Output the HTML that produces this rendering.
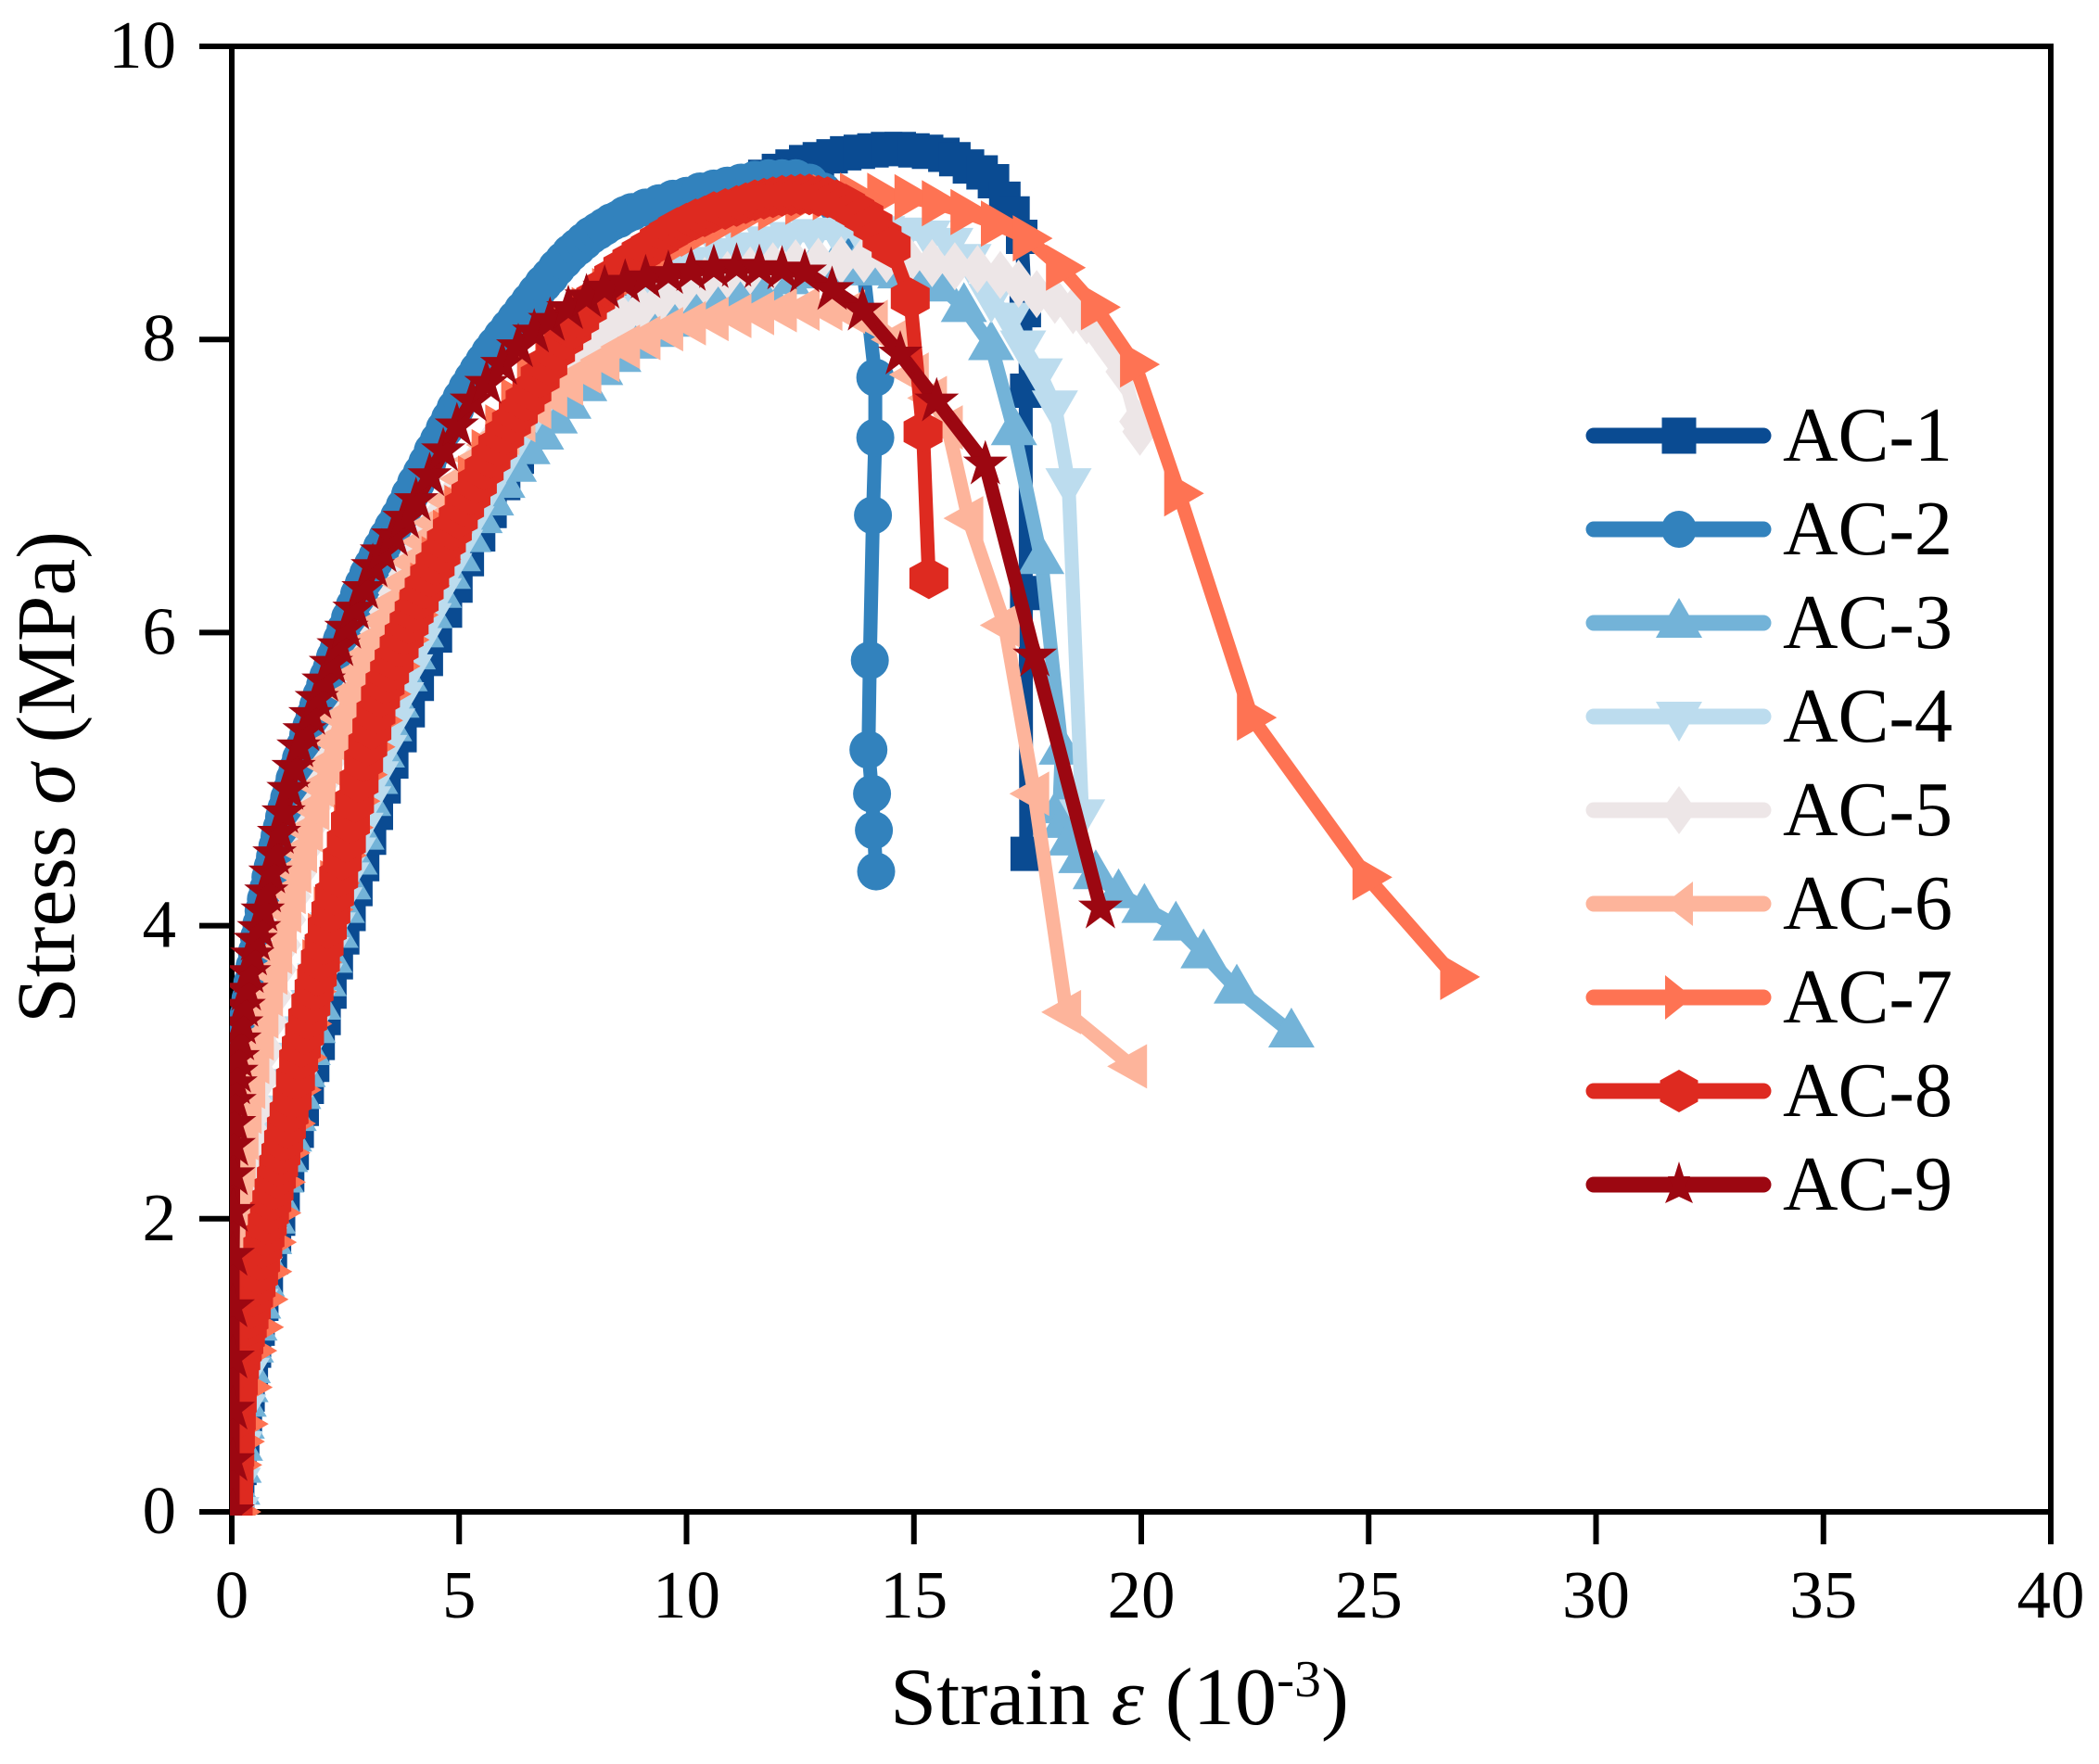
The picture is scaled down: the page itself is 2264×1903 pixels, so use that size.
<!DOCTYPE html>
<html lang="en">
<head>
<meta charset="utf-8">
<title>Stress-strain curves AC-1 to AC-9</title>
<style>
html,body{margin:0;padding:0;background:#fff;}
svg{display:block;}
text{font-family:"Liberation Serif","DejaVu Serif",serif;fill:#000;}
</style>
</head>
<body>
<svg id="chart" xmlns="http://www.w3.org/2000/svg" width="2264" height="1903" viewBox="0 0 2264 1903">
<rect x="0" y="0" width="2264" height="1903" fill="#ffffff"/>
<defs><clipPath id="plot-clip"><rect x="248" y="40" width="1970" height="1595"/></clipPath></defs>
<g id="axes"></g>
<g id="series" clip-path="url(#plot-clip)"></g>
<g id="legend"></g>
<text x="960" y="1860" font-size="88" textLength="495" lengthAdjust="spacingAndGlyphs">Strain <tspan font-style="italic">ε</tspan> (10<tspan font-size="56" dy="-30">-3</tspan><tspan dy="30">)</tspan></text>
<text transform="translate(80,1104) rotate(-90)" x="0" y="0" font-size="90" textLength="531" lengthAdjust="spacingAndGlyphs">Stress <tspan font-style="italic">σ</tspan> (MPa)</text>
</svg>
<script>
const xTickLabels = [0, 5, 10, 15, 20, 25, 30, 35, 40];
const yTickLabels = [0, 2, 4, 6, 8, 10];
const seriesNames = ["AC-1", "AC-2", "AC-3", "AC-4", "AC-5", "AC-6", "AC-7", "AC-8", "AC-9"];

const ac1Strain = [.12,.15,.2,.26,.32,.38,.45,.52,.6,.68,.78,.87,.96,1.05,1.15,1.25,1.35,1.46,1.57,1.68,1.8,1.92,2.05,2.18,2.32,2.46,2.6,2.75,2.9,3.05,3.2,3.37,3.54,3.72,3.9,4.1,4.3,4.5,4.72,4.95,5.2,5.45,5.7,6,6.3,6.6,6.9,7.2,7.5,7.8,8.1,8.4,8.7,9,9.3,9.6,9.9,10.2,10.5,10.8,11.1,11.4,11.7,12,12.3,12.6,12.9,13.2,13.5,13.8,14.1,14.4,14.7,15,15.3,15.66,15.9,16.2,16.5,16.75,17,17.2,17.37,17.45,17.46,17.46,17.47];
const ac1Stress = [0,.12,.3,.48,.65,.8,.95,1.1,1.25,1.42,1.6,1.75,1.88,2,2.15,2.3,2.45,2.6,2.75,2.9,3.05,3.2,3.37,3.55,3.75,3.92,4.08,4.25,4.42,4.6,4.77,4.95,5.12,5.3,5.47,5.65,5.82,5.98,6.15,6.32,6.5,6.67,6.83,7.02,7.2,7.37,7.53,7.68,7.83,7.97,8.1,8.22,8.33,8.44,8.54,8.63,8.72,8.8,8.87,8.94,9,9.06,9.11,9.15,9.18,9.21,9.23,9.25,9.27,9.28,9.29,9.3,9.3,9.29,9.28,9.26,9.23,9.18,9.14,9.08,8.96,8.86,8.7,8.2,7.65,6.27,4.49];

const ac2Strain = [.02,.03,.04,.05,.07,.09,.11,.14,.17,.21,.26,.29,.33,.37,.41,.45,.5,.55,.6,.65,.7,.75,.8,.85,.9,.95,1,1.05,1.1,1.15,1.2,1.26,1.32,1.38,1.45,1.52,1.6,1.68,1.75,1.82,1.9,1.97,2.05,2.12,2.2,2.27,2.35,2.42,2.5,2.6,2.7,2.8,2.9,3,3.1,3.2,3.3,3.42,3.55,3.68,3.8,3.92,4.05,4.18,4.3,4.42,4.55,4.68,4.8,4.92,5.05,5.18,5.3,5.42,5.55,5.68,5.8,5.95,6.1,6.25,6.4,6.55,6.7,6.85,7,7.15,7.3,7.45,7.6,7.75,7.9,8.05,8.2,8.35,8.5,8.65,8.8,9.1,9.4,9.7,10,10.3,10.6,10.9,11.2,11.5,11.8,12.1,12.4,12.7,13,13.3,13.6,13.85,14.15,14.15,14.1,14.03,14,14.08,14.12,14.17];
const ac2Stress = [0,.3,.6,.9,1.2,1.5,1.8,2.1,2.4,2.7,3,3.14,3.27,3.39,3.5,3.61,3.72,3.82,3.92,4.01,4.1,4.18,4.25,4.33,4.4,4.47,4.54,4.61,4.67,4.74,4.8,4.87,4.93,5,5.07,5.14,5.22,5.3,5.36,5.43,5.5,5.57,5.64,5.7,5.76,5.83,5.89,5.95,6.02,6.1,6.18,6.26,6.33,6.4,6.46,6.52,6.58,6.65,6.72,6.79,6.86,6.94,7.02,7.09,7.16,7.24,7.31,7.39,7.46,7.53,7.6,7.67,7.73,7.79,7.85,7.91,7.96,8.02,8.08,8.14,8.2,8.26,8.32,8.38,8.43,8.49,8.54,8.59,8.63,8.67,8.71,8.74,8.77,8.8,8.82,8.85,8.87,8.9,8.93,8.96,8.98,9.01,9.03,9.05,9.07,9.09,9.1,9.1,9.1,9.07,9.01,8.92,8.78,8.58,7.74,7.33,6.8,5.81,5.2,4.9,4.65,4.37];

const ac3Strain = [.1,.12,.15,.18,.22,.26,.3,.35,.42,.5,.58,.66,.74,.82,.9,1,1.08,1.17,1.26,1.36,1.46,1.56,1.67,1.78,1.9,2.02,2.15,2.28,2.42,2.56,2.7,2.85,3,3.15,3.3,3.46,3.62,3.8,3.98,4.16,4.35,4.55,4.75,4.97,5.2,5.45,5.7,5.95,6.2,6.5,6.8,7.1,7.4,7.75,8.1,8.5,8.9,9.3,9.75,10.2,10.7,11.2,11.7,12.2,12.7,13.2,13.7,14.2,14.7,15.2,15.6,16.1,16.7,17.2,17.8,18.25,18.2,18.3,18.45,18.68,19,19.5,20.07,20.76,21.37,22.1,23.3];
const ac3Stress = [0,.15,.3,.45,.6,.75,.85,.98,1.12,1.27,1.42,1.57,1.72,1.86,2,2.14,2.28,2.42,2.56,2.7,2.85,3,3.15,3.3,3.46,3.62,3.78,3.95,4.12,4.28,4.45,4.62,4.85,5,5.18,5.36,5.52,5.7,5.85,6,6.13,6.27,6.4,6.52,6.65,6.78,6.9,7.02,7.13,7.25,7.35,7.46,7.56,7.68,7.79,7.88,7.97,8.05,8.12,8.18,8.25,8.3,8.36,8.41,8.45,8.47,8.48,8.47,8.45,8.42,8.36,8.22,7.96,7.38,6.5,5.2,4.8,4.7,4.58,4.46,4.35,4.22,4.12,4,3.81,3.57,3.27];

const ac4Strain = [.1,.13,.18,.25,.33,.42,.52,.62,.72,.82,.93,1.04,1.16,1.28,1.4,1.53,1.66,1.8,1.94,2.08,2.22,2.37,2.52,2.67,2.83,3,3.17,3.35,3.53,3.72,3.92,4.12,4.33,4.55,4.78,5.02,5.27,5.53,5.8,6.08,6.38,6.7,7.03,7.4,7.8,8.2,8.6,9,9.4,9.85,10.3,10.8,11.3,11.8,12.3,12.8,13.3,13.8,14.3,14.8,15.3,15.8,16.2,16.7,17.1,17.4,17.77,18.1,18.4,18.7];
const ac4Stress = [0,.2,.45,.7,.95,1.2,1.42,1.64,1.84,2.02,2.2,2.38,2.56,2.74,2.92,3.1,3.28,3.46,3.64,3.82,3.99,4.16,4.33,4.5,4.67,4.85,5.02,5.2,5.38,5.56,5.75,5.93,6.1,6.27,6.44,6.6,6.76,6.92,7.07,7.22,7.38,7.53,7.68,7.83,7.98,8.1,8.2,8.3,8.39,8.47,8.53,8.59,8.63,8.67,8.7,8.72,8.73,8.74,8.74,8.73,8.71,8.66,8.55,8.28,8.15,7.96,7.77,7.55,7.02,4.76];

const ac5Strain = [.05,.07,.1,.13,.16,.2,.24,.29,.34,.4,.46,.53,.6,.68,.76,.85,.94,1.04,1.14,1.25,1.36,1.48,1.6,1.73,1.86,2,2.15,2.3,2.46,2.63,2.8,3,3.2,3.4,3.6,3.83,4.06,4.3,4.55,4.82,5.1,5.4,5.7,6,6.35,6.7,7.05,7.4,7.8,8.2,8.6,9,9.45,9.9,10.4,10.9,11.4,11.9,12.4,12.9,13.4,13.9,14.4,14.9,15.4,15.9,16.4,16.9,17.3,17.7,18.1,18.5,18.8,19.07,19.35,19.6,19.9,19.97];
const ac5Stress = [0,.25,.5,.75,1,1.25,1.5,1.72,1.94,2.15,2.36,2.56,2.76,2.96,3.15,3.34,3.52,3.7,3.87,4.04,4.2,4.36,4.52,4.68,4.83,4.98,5.13,5.28,5.42,5.57,5.71,5.86,6,6.14,6.27,6.4,6.53,6.66,6.79,6.92,7.05,7.18,7.3,7.42,7.55,7.67,7.78,7.88,7.97,8.06,8.14,8.21,8.28,8.34,8.4,8.44,8.47,8.5,8.52,8.53,8.54,8.55,8.55,8.54,8.52,8.5,8.48,8.44,8.38,8.31,8.27,8.2,8.13,8.05,7.93,7.78,7.44,7.37];

const ac6Strain = [0,.01,.02,.03,.05,.09,.14,.2,.26,.33,.41,.5,.6,.7,.8,.9,1,1.1,1.2,1.3,1.42,1.55,1.68,1.82,1.96,2.1,2.26,2.42,2.6,2.78,2.96,3.14,3.34,3.55,3.77,4,4.25,4.5,4.8,5.1,5.4,5.7,6,6.35,6.7,7.05,7.4,7.8,8.2,8.65,9.1,9.6,10.1,10.6,11.1,11.6,12.1,12.6,13.1,13.6,14.1,14.6,15,15.4,15.75,16.2,17,17.65,18.35,19.8];
const ac6Stress = [0,.4,.8,1.2,1.55,1.9,2.15,2.36,2.55,2.73,2.9,3.07,3.23,3.38,3.53,3.68,3.82,3.96,4.1,4.23,4.37,4.51,4.65,4.8,4.95,5.1,5.26,5.42,5.58,5.72,5.84,5.95,6.08,6.2,6.34,6.48,6.62,6.75,6.9,7.05,7.18,7.28,7.36,7.45,7.54,7.62,7.7,7.78,7.86,7.95,8.01,8.07,8.11,8.14,8.16,8.18,8.2,8.21,8.21,8.19,8.12,8,7.76,7.6,7.4,6.78,6.05,4.9,3.41,3.04];

const ac7Strain = [.1,.12,.18,.26,.35,.45,.6,.7,.78,.88,.98,1.08,1.18,1.3,1.43,1.55,1.66,1.76,1.88,2,2.13,2.27,2.42,2.57,2.72,2.88,3.05,3.22,3.4,3.6,3.8,4,4.25,4.5,4.75,5,5.3,5.6,5.9,6.25,6.6,7,7.4,7.8,8.25,8.7,9.2,9.7,10.2,10.75,11.3,11.9,12.5,13.1,13.7,14.3,14.9,15.5,16.13,16.8,17.5,18.23,19,19.86,20.83,22.43,24.97,26.9];
const ac7Stress = [0,.32,.48,.6,.85,1.1,1.26,1.45,1.64,1.84,2.04,2.25,2.45,2.65,2.88,3.1,3.33,3.55,3.75,3.93,4.11,4.29,4.48,4.67,4.85,5.03,5.22,5.4,5.58,5.77,5.95,6.12,6.32,6.5,6.68,6.85,7.05,7.23,7.4,7.58,7.75,7.92,8.07,8.2,8.33,8.45,8.55,8.64,8.72,8.79,8.85,8.9,8.94,8.97,8.98,8.98,8.97,8.93,8.87,8.79,8.69,8.49,8.22,7.83,6.95,5.42,4.33,3.65];

const ac8Strain = [.03,.04,.05,.065,.08,.1,.12,.145,.17,.2,.23,.265,.3,.34,.38,.43,.48,.535,.59,.635,.68,.73,.78,.83,.88,.93,.98,1.03,1.08,1.14,1.2,1.26,1.33,1.4,1.47,1.53,1.6,1.67,1.74,1.81,1.88,1.95,2.03,2.1,2.18,2.26,2.35,2.43,2.52,2.61,2.7,2.8,2.9,2.99,3.08,3.17,3.27,3.37,3.47,3.57,3.68,3.79,3.9,4.01,4.12,4.23,4.35,4.47,4.6,4.72,4.85,4.98,5.12,5.26,5.4,5.55,5.7,5.85,6,6.15,6.3,6.45,6.6,6.78,6.95,7.12,7.3,7.48,7.65,7.82,8,8.2,8.4,8.6,8.8,9,9.2,9.4,9.6,9.8,10,10.2,10.4,10.6,10.85,11.1,11.3,11.5,11.7,11.9,12.1,12.3,12.5,12.7,12.9,13.1,13.3,13.5,13.7,13.9,14.1,14.3,14.5,14.92,15.2,15.33];
const ac8Stress = [0,.12,.25,.38,.5,.63,.75,.87,.98,1.04,1.1,1.15,1.2,1.26,1.32,1.39,1.47,1.54,1.62,1.71,1.8,1.88,1.96,2.04,2.12,2.2,2.28,2.36,2.44,2.53,2.62,2.72,2.82,2.95,3.08,3.17,3.26,3.36,3.46,3.56,3.66,3.76,3.87,3.98,4.09,4.21,4.33,4.45,4.57,4.7,4.84,4.98,5.12,5.23,5.34,5.45,5.56,5.65,5.73,5.81,5.9,5.98,6.06,6.14,6.22,6.3,6.38,6.46,6.54,6.62,6.7,6.78,6.86,6.94,7.02,7.11,7.19,7.27,7.35,7.43,7.5,7.58,7.65,7.74,7.83,7.92,8,8.07,8.14,8.21,8.28,8.36,8.43,8.49,8.54,8.59,8.63,8.68,8.72,8.76,8.79,8.82,8.84,8.87,8.89,8.91,8.93,8.95,8.96,8.97,8.98,8.985,8.99,8.99,8.98,8.97,8.95,8.92,8.88,8.84,8.78,8.7,8.63,8.28,7.37,6.37];

const ac9Strain = [.02,.02,.02,.02,.02,.02,.03,.03,.04,.05,.06,.08,.1,.13,.17,.21,.26,.32,.38,.45,.52,.6,.68,.76,.85,.94,1.04,1.14,1.25,1.36,1.47,1.6,1.73,1.87,2.02,2.18,2.35,2.52,2.7,2.9,3.1,3.3,3.55,3.8,4.05,4.35,4.65,4.95,5.28,5.6,5.95,6.3,6.65,7,7.4,7.8,8.2,8.65,9.1,9.6,10.1,10.6,11.1,11.6,12.1,12.6,13.2,13.87,14.7,15.5,16.57,17.66,19.1];
const ac9Stress = [0,.35,.7,1.05,1.4,1.75,2.05,2.3,2.5,2.65,2.8,2.92,3,3.1,3.22,3.33,3.45,3.56,3.68,3.8,3.9,3.98,4.1,4.23,4.36,4.49,4.63,4.77,4.93,5.08,5.22,5.33,5.44,5.55,5.67,5.79,5.91,6.03,6.16,6.3,6.45,6.55,6.66,6.78,6.9,7.07,7.24,7.41,7.58,7.7,7.83,7.95,8.05,8.13,8.21,8.29,8.35,8.39,8.42,8.45,8.47,8.49,8.5,8.49,8.48,8.46,8.34,8.2,7.9,7.58,7.15,5.84,4.12];

const strainSeries = [ac1Strain, ac2Strain, ac3Strain, ac4Strain, ac5Strain, ac6Strain, ac7Strain, ac8Strain, ac9Strain];
const stressSeries = [ac1Stress, ac2Stress, ac3Stress, ac4Stress, ac5Stress, ac6Stress, ac7Stress, ac8Stress, ac9Stress];

const seriesColors = ["#0a4b92", "#3282bd", "#73b3d8", "#bcdcee", "#ede6e7", "#fdb49b", "#fe7353", "#de2a20", "#9c0711"];
const chartMarkers = [
  "M-17,-18.5H17V18.5H-17Z",
  "M-20.5,0A20.5,20.5 0 1 1 20.5,0A20.5,20.5 0 1 1 -20.5,0Z",
  "M0,-27L25,16H-25Z",
  "M0,27L25,-16H-25Z",
  "M0,-26L19,0L0,26L-19,0Z",
  "M-27,0L16,-24V24Z",
  "M27,0L-16,-25V25Z",
  "M0,-22.5L21,-11V11L0,22.5L-21,11V-11Z",
  "M0,-26L6,-8H24L10,3L16,22L0,10L-16,22L-10,3L-24,-8H-6Z"
];
const legendMarkers = [
  "M-18.5,-19.5H18.5V19.5H-18.5Z",
  "M-19,0A19,20 0 1 1 19,0A19,20 0 1 1 -19,0Z",
  "M0,-27L25,16H-25Z",
  "M0,27L25,-16H-25Z",
  "M0,-26L19,0L0,26L-19,0Z",
  "M-16,0L15,-24V24Z",
  "M15,0L-15,-24V24Z",
  "M0,-23L20.5,-11.5V11.5L0,23L-20.5,11.5V-11.5Z",
  "M0,-25L5,-9H12L7,1L15,20L0,13L-15,20L-7,1L-12,-9H-5Z"
];

const SVG_NS = "http://www.w3.org/2000/svg";
const xScale = function (v) { return 250 + (v / 40) * 1962; };
const yScale = function (v) { return 1631 - (v / 10) * 1581; };

const axesGroup = document.getElementById("axes");
const seriesGroup = document.getElementById("series");
const legendGroup = document.getElementById("legend");

function svgEl(tag, parent) {
  const el = document.createElementNS(SVG_NS, tag);
  parent.appendChild(el);
  return el;
}

const frame = svgEl("rect", axesGroup);


frame.setAttribute("x", xScale(0));
frame.setAttribute("y", yScale(10));
frame.setAttribute("width", xScale(40) - xScale(0));
frame.setAttribute("height", yScale(0) - yScale(10));
frame.setAttribute("fill", "none");
frame.setAttribute("stroke", "#000");
frame.setAttribute("stroke-width", "6");

xTickLabels.forEach(function (v) {
  const tick = svgEl("line", axesGroup);
  
  
  tick.setAttribute("x1", xScale(v));
  tick.setAttribute("x2", xScale(v));
  tick.setAttribute("y1", yScale(0));
  tick.setAttribute("y2", yScale(0) + 35);
  tick.setAttribute("stroke", "#000");
  tick.setAttribute("stroke-width", "6");
  const label = svgEl("text", axesGroup);
  
  
  label.setAttribute("x", xScale(v));
  label.setAttribute("y", 1745);
  label.setAttribute("font-size", "73");
  label.setAttribute("text-anchor", "middle");
  label.textContent = v;
});

yTickLabels.forEach(function (v) {
  const tick = svgEl("line", axesGroup);
  
  
  tick.setAttribute("x1", xScale(0) - 35);
  tick.setAttribute("x2", xScale(0));
  tick.setAttribute("y1", yScale(v));
  tick.setAttribute("y2", yScale(v));
  tick.setAttribute("stroke", "#000");
  tick.setAttribute("stroke-width", "6");
  const label = svgEl("text", axesGroup);
  
  
  label.setAttribute("x", 190);
  label.setAttribute("y", yScale(v) + 23);
  label.setAttribute("font-size", "73");
  label.setAttribute("text-anchor", "end");
  label.textContent = v;
});

seriesNames.forEach(function (name, i) {
  const group = svgEl("g", seriesGroup);
  
  
  const n = Math.min(strainSeries[i].length, stressSeries[i].length);
  let pts = "";
  for (let k = 0; k < n; k++) {
    pts += xScale(strainSeries[i][k]).toFixed(1) + "," + yScale(stressSeries[i][k]).toFixed(1) + " ";
  }
  const line = svgEl("polyline", group);
  
  
  line.setAttribute("points", pts.trim());
  line.setAttribute("fill", "none");
  line.setAttribute("stroke", seriesColors[i]);
  line.setAttribute("stroke-width", "15");
  line.setAttribute("stroke-linejoin", "round");
  for (let k = 0; k < n; k++) {
    const mark = svgEl("path", group);
    
    
    mark.setAttribute("d", chartMarkers[i]);
    mark.setAttribute("fill", seriesColors[i]);
    mark.setAttribute("transform", "translate(" + xScale(strainSeries[i][k]).toFixed(1) + "," + yScale(stressSeries[i][k]).toFixed(1) + ")");
  }

  const entry = svgEl("g", legendGroup);
  
  
  const rowY = 470 + i * 101;
  const swatch = svgEl("line", entry);
  
  
  swatch.setAttribute("x1", 1719);
  swatch.setAttribute("x2", 1902);
  swatch.setAttribute("y1", rowY);
  swatch.setAttribute("y2", rowY);
  swatch.setAttribute("stroke", seriesColors[i]);
  swatch.setAttribute("stroke-width", "17");
  swatch.setAttribute("stroke-linecap", "round");
  const legendMark = svgEl("path", entry);
  
  
  legendMark.setAttribute("d", legendMarkers[i]);
  legendMark.setAttribute("fill", seriesColors[i]);
  legendMark.setAttribute("transform", "translate(1811," + rowY + ")");
  const text = svgEl("text", entry);
  
  
  text.setAttribute("x", 1923);
  text.setAttribute("y", rowY + 27);
  text.setAttribute("font-size", "84");
  text.setAttribute("textLength", "183");
  text.setAttribute("lengthAdjust", "spacingAndGlyphs");
  text.textContent = name;
});
</script>
</body>
</html>
